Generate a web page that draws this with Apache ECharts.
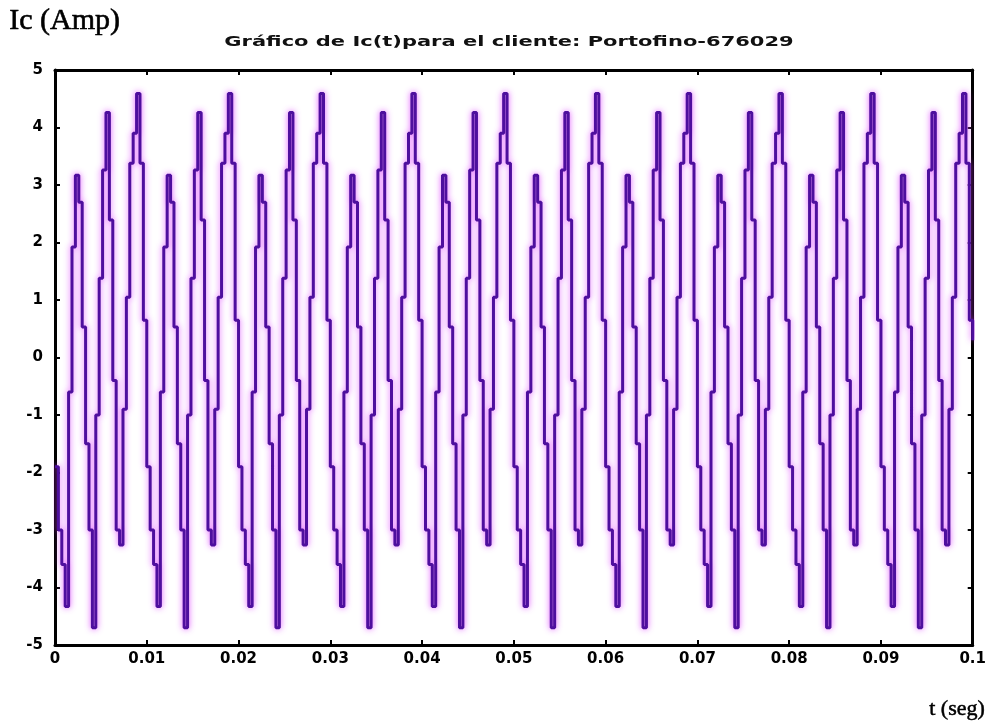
<!DOCTYPE html>
<html>
<head>
<meta charset="utf-8">
<script src="https://cdn.jsdelivr.net/npm/echarts@6/dist/echarts.min.js"></script>
<style>
html,body{margin:0;padding:0;background:#fff;}
#chart{width:989px;height:728px;}
</style>
</head>
<body>
<div id="chart"></div>
<script>
// Sampling step of the recorded current (27 samples per 0.01 s)
const sampleStep = 0.01 / 27;

// Ic samples (A), one row per 0.01 s
const icValues = [
  -1.9, -3.0, -3.6, -4.33, -0.6, 1.92, 3.17, 2.7, 0.53, -1.5, -3.0, -4.7, -1.0, 1.38, 3.26, 4.26, 2.39, -0.4, -3.0, -3.26, -0.9, 1.05, 3.38, 3.9, 4.59, 3.38, 0.65,
  -1.9, -3.0, -3.6, -4.33, -0.6, 1.92, 3.17, 2.7, 0.53, -1.5, -3.0, -4.7, -1.0, 1.38, 3.26, 4.26, 2.39, -0.4, -3.0, -3.26, -0.9, 1.05, 3.38, 3.9, 4.59, 3.38, 0.65,
  -1.9, -3.0, -3.6, -4.33, -0.6, 1.92, 3.17, 2.7, 0.53, -1.5, -3.0, -4.7, -1.0, 1.38, 3.26, 4.26, 2.39, -0.4, -3.0, -3.26, -0.9, 1.05, 3.38, 3.9, 4.59, 3.38, 0.65,
  -1.9, -3.0, -3.6, -4.33, -0.6, 1.92, 3.17, 2.7, 0.53, -1.5, -3.0, -4.7, -1.0, 1.38, 3.26, 4.26, 2.39, -0.4, -3.0, -3.26, -0.9, 1.05, 3.38, 3.9, 4.59, 3.38, 0.65,
  -1.9, -3.0, -3.6, -4.33, -0.6, 1.92, 3.17, 2.7, 0.53, -1.5, -3.0, -4.7, -1.0, 1.38, 3.26, 4.26, 2.39, -0.4, -3.0, -3.26, -0.9, 1.05, 3.38, 3.9, 4.59, 3.38, 0.65,
  -1.9, -3.0, -3.6, -4.33, -0.6, 1.92, 3.17, 2.7, 0.53, -1.5, -3.0, -4.7, -1.0, 1.38, 3.26, 4.26, 2.39, -0.4, -3.0, -3.26, -0.9, 1.05, 3.38, 3.9, 4.59, 3.38, 0.65,
  -1.9, -3.0, -3.6, -4.33, -0.6, 1.92, 3.17, 2.7, 0.53, -1.5, -3.0, -4.7, -1.0, 1.38, 3.26, 4.26, 2.39, -0.4, -3.0, -3.26, -0.9, 1.05, 3.38, 3.9, 4.59, 3.38, 0.65,
  -1.9, -3.0, -3.6, -4.33, -0.6, 1.92, 3.17, 2.7, 0.53, -1.5, -3.0, -4.7, -1.0, 1.38, 3.26, 4.26, 2.39, -0.4, -3.0, -3.26, -0.9, 1.05, 3.38, 3.9, 4.59, 3.38, 0.65,
  -1.9, -3.0, -3.6, -4.33, -0.6, 1.92, 3.17, 2.7, 0.53, -1.5, -3.0, -4.7, -1.0, 1.38, 3.26, 4.26, 2.39, -0.4, -3.0, -3.26, -0.9, 1.05, 3.38, 3.9, 4.59, 3.38, 0.65,
  -1.9, -3.0, -3.6, -4.33, -0.6, 1.92, 3.17, 2.7, 0.53, -1.5, -3.0, -4.7, -1.0, 1.38, 3.26, 4.26, 2.39, -0.4, -3.0, -3.26, -0.9, 1.05, 3.38, 3.9, 4.59, 3.38, 0.65,
  0.3
];

const xTickLabels = ['0', '0.01', '0.02', '0.03', '0.04', '0.05', '0.06', '0.07', '0.08', '0.09', '0.1'];
const yTickLabels = ['-5', '-4', '-3', '-2', '-1', '0', '1', '2', '3', '4', '5'];

const titleText = 'Gráfico de Ic(t)para el cliente: Portofino-676029';
const yName = 'Ic (Amp)';
const xName = 't (seg)';

const seriesData = icValues.map((v, i) => [i * sampleStep, v]);

const chart = echarts.init(document.getElementById('chart'), null, {renderer: 'canvas'});

const labelFont = {color: '#000', fontFamily: 'DejaVu Sans', fontWeight: 'bold', fontSize: 15};

chart.setOption({
  animation: false,
  backgroundColor: '#fff',
  graphic: [
    {type: 'text', x: 509, y: 42, scaleX: 1.5, style: {text: titleText, font: 'bold 14px "DejaVu Sans"', fill: '#111', align: 'center', verticalAlign: 'middle'}},
    {type: 'text', left: 9, top: 6, style: {text: yName, font: '30px "Liberation Serif"', fill: '#000', stroke: '#000', lineWidth: 0.6}},
    {type: 'text', left: 929, top: 698, style: {text: xName, font: '22px "Liberation Serif"', fill: '#000', stroke: '#000', lineWidth: 0.5}}
  ],
  grid: {left: 55, right: 16, top: 70, bottom: 83, show: false},
  xAxis: [{
    type: 'value', min: 0, max: 0.1, interval: 0.01,
    axisLine: {show: true, onZero: false, lineStyle: {color: '#000', width: 3}},
    axisTick: {inside: true, length: 5, lineStyle: {color: '#000', width: 2}},
    splitLine: {show: false},
    axisLabel: Object.assign({margin: 7, formatter: (v) => xTickLabels[Math.round(v / 0.01)]}, labelFont)
  }, {
    type: 'value', position: 'top', min: 0, max: 0.1, interval: 0.01,
    axisLine: {show: true, onZero: false, lineStyle: {color: '#000', width: 3}},
    axisTick: {inside: true, length: 5, lineStyle: {color: '#000', width: 2}},
    axisLabel: {show: false}, splitLine: {show: false}
  }],
  yAxis: [{
    type: 'value', min: -5, max: 5, interval: 1,
    axisLine: {show: true, onZero: false, lineStyle: {color: '#000', width: 3}},
    axisTick: {show: true, inside: true, length: 5, lineStyle: {color: '#000', width: 2}},
    splitLine: {show: false},
    axisLabel: Object.assign({margin: 12, formatter: (v) => yTickLabels[Math.round(v) + 5]}, labelFont)
  }, {
    type: 'value', position: 'right', min: -5, max: 5, interval: 1,
    axisLine: {show: true, onZero: false, lineStyle: {color: '#000', width: 3}},
    axisTick: {show: true, inside: true, length: 5, lineStyle: {color: '#000', width: 2}},
    axisLabel: {show: false}, splitLine: {show: false}
  }],
  series: [{
    type: 'line',
    data: seriesData,
    step: 'end',
    symbol: 'none',
    clip: true,
    lineStyle: {color: '#4e0f9e', width: 3, shadowColor: 'rgba(220,60,255,0.85)', shadowBlur: 6},
    z: 3
  }]
});
</script>
</body>
</html>
